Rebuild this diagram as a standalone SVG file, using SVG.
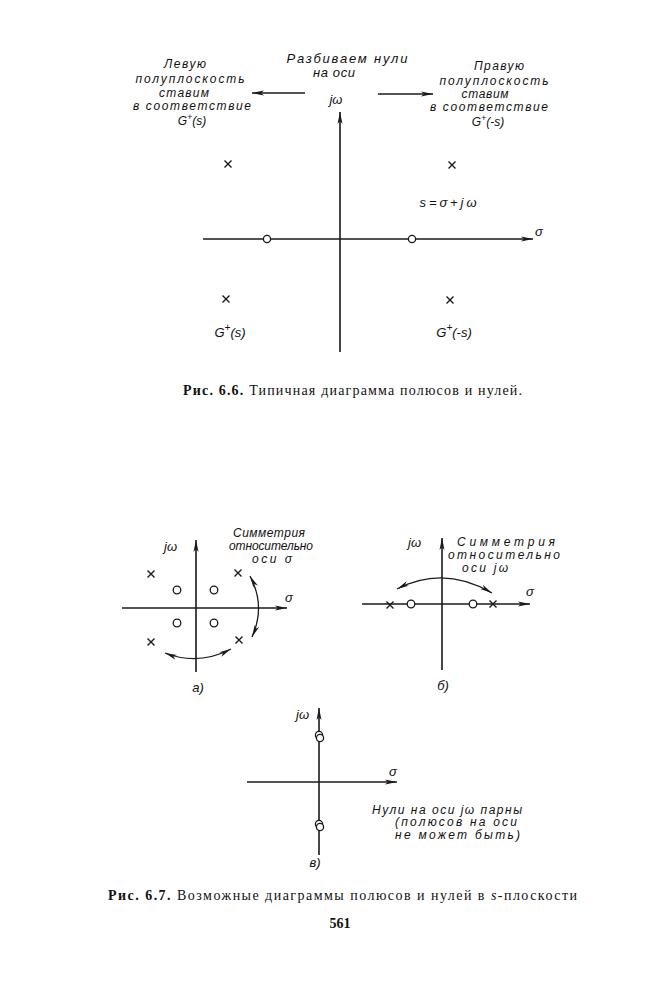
<svg xmlns="http://www.w3.org/2000/svg" width="668" height="1000" viewBox="0 0 668 1000">
<style>
.ax{stroke:#1a1a1a;stroke-width:1.6;fill:none}
.arc{stroke:#1a1a1a;stroke-width:1.3;fill:none}
.h{font-family:"Liberation Sans",Arial,sans-serif;font-style:italic;font-size:13px;fill:#111}
.n{font-family:"Liberation Sans",Arial,sans-serif;font-style:italic;font-size:12px;fill:#111}
.b{font-size:14px}
.cap{font-family:"Liberation Serif","Times New Roman",serif;font-size:14px;fill:#111}
.zero{fill:#fff;stroke:#1a1a1a;stroke-width:1.3}
.x{stroke:#1a1a1a;stroke-width:1.4;fill:none}
</style>
<defs>
<marker id="ah" viewBox="0 0 12 6" markerWidth="12" markerHeight="6" refX="12" refY="3" orient="auto-start-reverse" markerUnits="userSpaceOnUse">
<path d="M0,0.5 L12,3 L0,5.5 L3,3 z" fill="#1a1a1a"/>
</marker>
<path id="cr" d="M-3.5,-3.5 L3.5,3.5 M-3.5,3.5 L3.5,-3.5"/>
</defs>
<rect width="668" height="1000" fill="#fff"/>

<!-- Fig 6.6 -->
<g id="fig66-axes">
<line class="ax" x1="340" y1="352" x2="340" y2="112" marker-end="url(#ah)"/>
<line class="ax" x1="203" y1="239" x2="533" y2="239" marker-end="url(#ah)"/>
</g>
<g id="fig66-connectors">
<line class="ax" x1="305" y1="93" x2="252" y2="93" marker-end="url(#ah)"/>
<line class="ax" x1="378" y1="94" x2="433" y2="94" marker-end="url(#ah)"/>
</g>
<g id="fig66-points">
<circle class="zero" cx="267" cy="239" r="3.6"/>
<circle class="zero" cx="412" cy="239" r="3.6"/>
<use href="#cr" class="x" x="228" y="164"/>
<use href="#cr" class="x" x="452" y="165"/>
<use href="#cr" class="x" x="226" y="299"/>
<use href="#cr" class="x" x="450" y="300"/>
</g>
<g id="fig66-labels">
<text class="h" x="347" y="63" text-anchor="middle" textLength="121" lengthAdjust="spacing">Разбиваем нули</text>
<text class="h" x="334" y="77" text-anchor="middle" textLength="42" lengthAdjust="spacing">на оси</text>
<text class="h" x="336" y="104" text-anchor="middle">jω</text>
<text class="h" x="539" y="236" text-anchor="middle">σ</text>
<text class="h" x="448" y="207" text-anchor="middle" textLength="57" lengthAdjust="spacing">s=σ+jω</text>
<text class="h" x="230" y="337" text-anchor="middle">G<tspan dy="-6" font-size="10">+</tspan><tspan dy="6">(s)</tspan></text>
<text class="h" x="454" y="337" text-anchor="middle">G<tspan dy="-6" font-size="10">+</tspan><tspan dy="6">(-s)</tspan></text>
</g>
<g id="left-note">
<text class="n" x="185" y="68" text-anchor="middle" textLength="42" lengthAdjust="spacing">Левую</text>
<text class="n" x="190" y="83" text-anchor="middle" textLength="109" lengthAdjust="spacing">полуплоскость</text>
<text class="n" x="184" y="97" text-anchor="middle" textLength="50" lengthAdjust="spacing">ставим</text>
<text class="n" x="192" y="110" text-anchor="middle" textLength="118" lengthAdjust="spacing">в соответствие</text>
<text class="n" x="192" y="125" text-anchor="middle">G<tspan dy="-5" font-size="9">+</tspan><tspan dy="5">(s)</tspan></text>
</g>
<g id="right-note">
<text class="n" x="499" y="70" text-anchor="middle" textLength="50" lengthAdjust="spacing">Правую</text>
<text class="n" x="494" y="85" text-anchor="middle" textLength="109" lengthAdjust="spacing">полуплоскость</text>
<text class="n" x="485" y="98" text-anchor="middle" textLength="47" lengthAdjust="spacing">ставим</text>
<text class="n" x="489" y="111" text-anchor="middle" textLength="118" lengthAdjust="spacing">в соответствие</text>
<text class="n" x="488" y="126" text-anchor="middle">G<tspan dy="-5" font-size="9">+</tspan><tspan dy="5">(-s)</tspan></text>
</g>
<g id="caption66">
<text class="cap" x="183" y="395" textLength="339" lengthAdjust="spacing"><tspan font-weight="bold">Рис. 6.6.</tspan> Типичная диаграмма полюсов и нулей.</text>
</g>

<!-- Fig 6.7 a -->
<g id="fig67a-axes">
<line class="ax" x1="196" y1="672" x2="196" y2="540" marker-end="url(#ah)"/>
<line class="ax" x1="122" y1="608" x2="287" y2="608" marker-end="url(#ah)"/>
</g>
<g id="fig67a-points">
<use href="#cr" class="x" x="151" y="574"/>
<use href="#cr" class="x" x="238" y="573"/>
<use href="#cr" class="x" x="151" y="642"/>
<use href="#cr" class="x" x="239" y="640"/>
<circle class="zero" cx="177" cy="590" r="3.8"/>
<circle class="zero" cx="214" cy="590" r="3.8"/>
<circle class="zero" cx="177" cy="623" r="3.8"/>
<circle class="zero" cx="214" cy="623" r="3.8"/>
</g>
<g id="fig67a-connectors">
<path class="arc" d="M252,637 Q266,606 250,576" marker-start="url(#ah)" marker-end="url(#ah)"/>
<path class="arc" d="M165,653 Q198,666 231,649" marker-start="url(#ah)" marker-end="url(#ah)"/>
</g>
<g id="fig67a-labels">
<text class="h" x="164" y="551">jω</text>
<text class="h" x="285" y="602">σ</text>
<text class="n" x="269" y="537" text-anchor="middle" textLength="72" lengthAdjust="spacing">Симметрия</text>
<text class="n" x="271" y="550" text-anchor="middle" textLength="84" lengthAdjust="spacing">относительно</text>
<text class="n" x="272" y="563" text-anchor="middle" textLength="40" lengthAdjust="spacing">оси σ</text>
<text class="h" x="198" y="692" text-anchor="middle">а)</text>
</g>

<!-- Fig 6.7 b -->
<g id="fig67b-axes">
<line class="ax" x1="442" y1="670" x2="442" y2="538" marker-end="url(#ah)"/>
<line class="ax" x1="362" y1="604" x2="530" y2="604" marker-end="url(#ah)"/>
</g>
<g id="fig67b-points">
<use href="#cr" class="x" x="390" y="605"/>
<use href="#cr" class="x" x="493" y="604"/>
<circle class="zero" cx="411" cy="604" r="3.8"/>
<circle class="zero" cx="473" cy="604" r="3.8"/>
</g>
<g id="fig67b-connectors">
<path class="arc" d="M397,589 Q444,565 492,593" marker-start="url(#ah)" marker-end="url(#ah)"/>
</g>
<g id="fig67b-labels">
<text class="h" x="408" y="547">jω</text>
<text class="h" x="526" y="596">σ</text>
<text class="n" x="506" y="546" text-anchor="middle" textLength="98" lengthAdjust="spacing">Симметрия</text>
<text class="n" x="504" y="559" text-anchor="middle" textLength="112" lengthAdjust="spacing">относительно</text>
<text class="n" x="485" y="572" text-anchor="middle" textLength="46" lengthAdjust="spacing">оси jω</text>
<text class="h" x="443" y="690" text-anchor="middle">б)</text>
</g>

<!-- Fig 6.7 c -->
<g id="fig67c-axes">
<line class="ax" x1="319" y1="855" x2="319" y2="708" marker-end="url(#ah)"/>
<line class="ax" x1="247" y1="782" x2="397" y2="782" marker-end="url(#ah)"/>
</g>
<g id="fig67c-points">
<circle class="zero" cx="319" cy="735" r="3.6"/>
<circle class="zero" cx="320" cy="738" r="3.6"/>
<circle class="zero" cx="319" cy="824" r="3.6"/>
<circle class="zero" cx="320" cy="827" r="3.6"/>
</g>
<g id="fig67c-labels">
<text class="h" x="296" y="719">jω</text>
<text class="h" x="389" y="776">σ</text>
<text class="n" x="372" y="814" textLength="150" lengthAdjust="spacing">Нули на оси jω парны</text>
<text class="n" x="395" y="826" textLength="122" lengthAdjust="spacing">(полюсов на оси</text>
<text class="n" x="395" y="839" textLength="125" lengthAdjust="spacing">не может быть)</text>
<text class="h" x="315" y="867" text-anchor="middle">в)</text>
</g>
<g id="caption67">
<text class="cap" x="108" y="900" textLength="469" lengthAdjust="spacing"><tspan font-weight="bold">Рис. 6.7.</tspan> Возможные диаграммы полюсов и нулей в <tspan font-style="italic">s</tspan>-плоскости</text>
<text class="cap" x="340" y="928" text-anchor="middle" font-weight="bold" font-size="15">561</text>
</g>
</svg>
